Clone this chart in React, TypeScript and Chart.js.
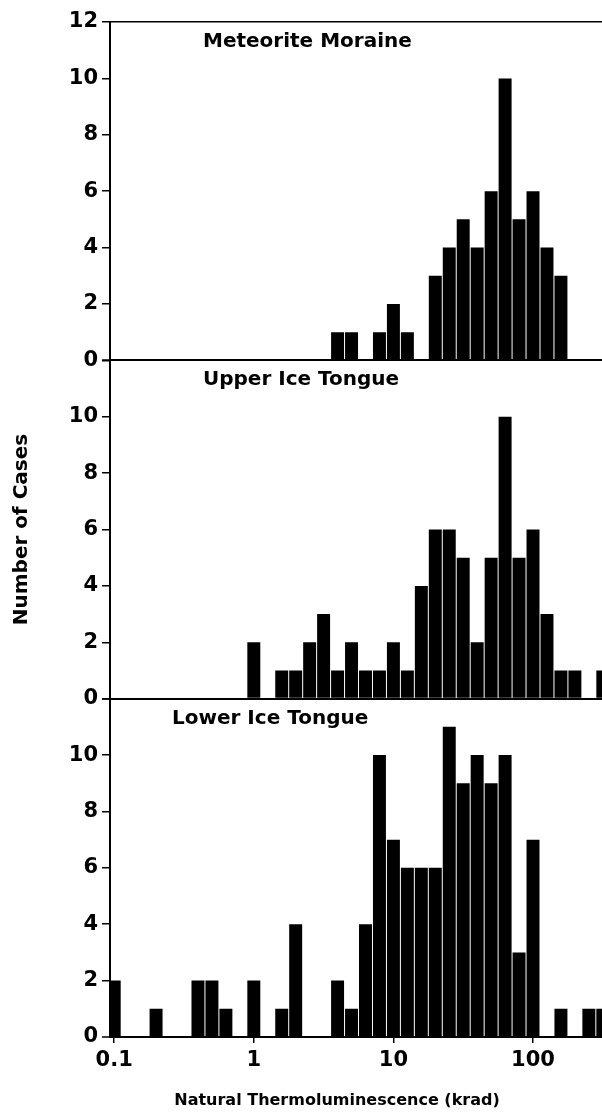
import { useEffect, useRef } from "react";
import { Chart, registerables } from "chart.js";

Chart.register(...registerables);

// Histogram bins: centres in krad (log-spaced, 10 bins per decade)
const binCenters = [
  0.1, 0.1259, 0.1585, 0.1995, 0.2512, 0.3162, 0.3981, 0.5012, 0.631, 0.7943,
  1, 1.259, 1.585, 1.995, 2.512, 3.162, 3.981, 5.012, 6.31, 7.943,
  10, 12.59, 15.85, 19.95, 25.12, 31.62, 39.81, 50.12, 63.1, 79.43,
  100, 125.9, 158.5, 199.5, 251.2, 316.2,
];

const moraineCounts = [
  0, 0, 0, 0, 0, 0, 0, 0, 0, 0,
  0, 0, 0, 0, 0, 0, 1, 1, 0, 1,
  2, 1, 0, 3, 4, 5, 4, 6, 10, 5,
  6, 4, 3, 0, 0, 0,
];

const upperCounts = [
  0, 0, 0, 0, 0, 0, 0, 0, 0, 0,
  2, 0, 1, 1, 2, 3, 1, 2, 1, 1,
  2, 1, 4, 6, 6, 5, 2, 5, 10, 5,
  6, 3, 1, 1, 0, 1,
];

const lowerCounts = [
  2, 0, 0, 1, 0, 0, 2, 2, 1, 0,
  2, 0, 1, 4, 0, 0, 2, 1, 4, 10,
  7, 6, 6, 6, 11, 9, 10, 9, 10, 3,
  7, 0, 1, 0, 1, 1,
];

const panelTitles = ["Meteorite Moraine", "Upper Ice Tongue", "Lower Ice Tongue"];
const xTickValues = [0.1, 1, 10, 100];
const yAxisTitle = "Number of Cases";
const xAxisTitle = "Natural Thermoluminescence (krad)";

const FONT = "'DejaVu Sans', 'Liberation Sans', sans-serif";
const titleOffsets = [93, 93, 62];
const panelIds = ["y1", "y2", "y3"];
const series = [moraineCounts, upperCounts, lowerCounts];

const panelTitlePlugin = {
  id: "panelTitles",
  afterDatasetsDraw(chart: any) {
    const ctx = chart.ctx;
    const { left } = chart.chartArea;
    ctx.save();
    ctx.fillStyle = "#000";
    ctx.font = `bold 20px ${FONT}`;
    ctx.textBaseline = "alphabetic";
    ctx.textAlign = "left";
    panelIds.forEach((id, k) => {
      const s = chart.scales[id];
      ctx.fillText(panelTitles[k], left + titleOffsets[k], s.top + 25);
    });
    ctx.font = `bold 16px ${FONT}`;
    ctx.textAlign = "center";
    ctx.fillText(xAxisTitle, left + 227, chart.height - 7);
    ctx.restore();
  },
};

function yScale(k: number) {
  return {
    type: "linear",
    position: "left",
    stack: "panels",
    stackWeight: 1,
    min: 0,
    max: 12,
    afterFit: (s: any) => {
      s.width = 110;
    },
    ticks: {
      stepSize: 2,
      color: "#000",
      padding: 4,
      font: { family: FONT, weight: "bold", size: 21 },
      callback: (v: any) => (k > 0 && v === 12 ? "" : String(v)),
    },
    grid: {
      drawOnChartArea: true,
      color: (c: any) =>
        c.tick && (c.tick.value === 0 || (k === 0 && c.tick.value === 12))
          ? "#000"
          : "rgba(0,0,0,0)",
      lineWidth: (c: any) => (c.tick && c.tick.value === 0 ? 2 : 1.5),
      tickColor: "#000",
      tickLength: 8,
      tickWidth: 1.5,
    },
    border: { display: true, color: "#000", width: 2 },
    title:
      k === 1
        ? {
            display: true,
            text: yAxisTitle,
            color: "#000",
            font: { family: FONT, weight: "bold", size: 20 },
            padding: { top: 10, bottom: 0 },
          }
        : { display: false },
  };
}

export default function App() {
  const ref = useRef<HTMLCanvasElement>(null);

  useEffect(() => {
    document.body.style.margin = "0";
    const chart = new Chart(ref.current as HTMLCanvasElement, {
      type: "bar",
      data: {
        datasets: series.map((counts, k) => ({
          label: panelTitles[k],
          data: binCenters.map((x, i) => ({ x, y: counts[i] })),
          yAxisID: panelIds[k],
          backgroundColor: "#000",
          borderWidth: 0,
          grouped: false,
          barPercentage: 0.93,
          categoryPercentage: 1,
        })),
      } as any,
      options: {
        responsive: false,
        animation: false,
        layout: { padding: { top: 22, right: 0, bottom: 0, left: 0 } },
        plugins: {
          legend: { display: false },
          tooltip: { enabled: false },
        },
        scales: {
          x: {
            type: "logarithmic",
            min: 0.0933,
            max: 312,
            offset: false,
            afterBuildTicks: (s: any) => {
              s.ticks = xTickValues.map((v) => ({ value: v }));
            },
            afterFit: (s: any) => {
              s.height = 75;
            },
            ticks: {
              autoSkip: false,
              maxRotation: 0,
              color: "#000",
              padding: 5,
              font: { family: FONT, weight: "bold", size: 21 },
              callback: (v: any) => String(v),
            },
            grid: {
              offset: false,
              drawOnChartArea: false,
              color: "#000",
              tickLength: 6,
              lineWidth: 1.5,
            },
            border: { display: true, color: "#000", width: 2 },
          },
          // stacked panels are laid out last-defined on top
          y3: yScale(2),
          y2: yScale(1),
          y1: yScale(0),
        } as any,
      },
      plugins: [panelTitlePlugin],
    } as any);
    return () => chart.destroy();
  }, []);

  return (
    <div style={{ width: 602, height: 1112 }}>
      <canvas ref={ref} width={602} height={1112} style={{ display: "block" }} />
    </div>
  );
}
